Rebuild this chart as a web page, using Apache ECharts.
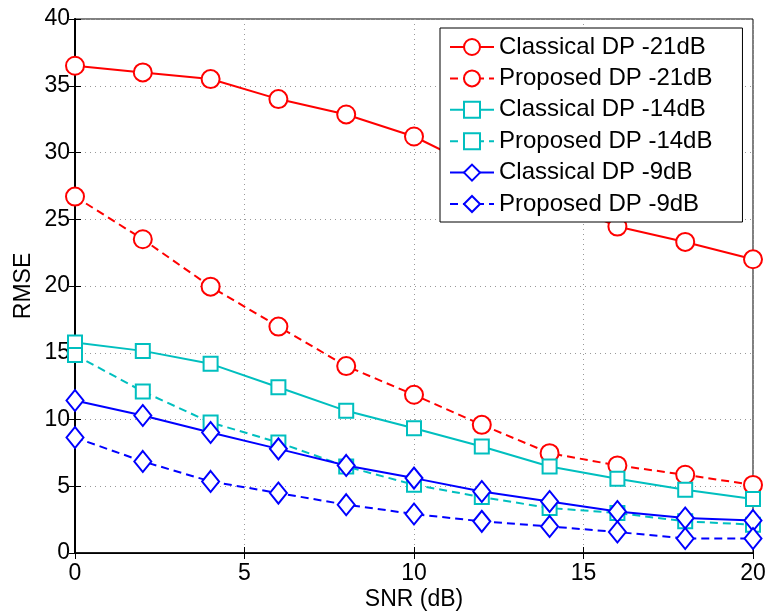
<!DOCTYPE html>
<html>
<head>
<meta charset="utf-8">
<script src="https://cdn.jsdelivr.net/npm/echarts@6/dist/echarts.min.js"></script>
<style>
html, body { margin: 0; padding: 0; background: #fff; }
#chart { width: 768px; height: 611px; }
</style>
</head>
<body>
<div id="chart"></div>
<script>
var snr = [0, 2, 4, 6, 8, 10, 12, 14, 16, 18, 20];
var classical21 = [36.5, 36.0, 35.5, 34.0, 32.85, 31.2, 28.7, 26.6, 24.45, 23.3, 22.0];
var proposed21 = [26.7, 23.5, 19.95, 16.96, 14.0, 11.85, 9.6, 7.48, 6.56, 5.86, 5.1];
var classical14 = [15.76, 15.14, 14.17, 12.42, 10.65, 9.35, 7.98, 6.48, 5.56, 4.74, 4.04];
var proposed14 = [14.84, 12.1, 9.78, 8.28, 6.48, 5.11, 4.19, 3.37, 3.0, 2.37, 2.12];
var classical9 = [11.42, 10.3, 9.03, 7.8, 6.56, 5.61, 4.61, 3.86, 3.11, 2.62, 2.44];
var proposed9 = [8.65, 6.86, 5.36, 4.49, 3.62, 2.92, 2.37, 1.99, 1.57, 1.09, 1.09];

var FONT = 'Liberation Sans, Arial, Helvetica, sans-serif';

function pairs(ys) {
	var out = [];
	for (var i = 0; i < snr.length; i++) {
		out.push([snr[i], ys[i]]);
	}
	return out;
}

function makeSeries(name, ys, color, symbol, size, dashed) {
	return {
		name: name,
		type: 'line',
		data: pairs(ys),
		symbol: symbol,
		symbolSize: size,
		showAllSymbol: true,
		lineStyle: { color: color, width: 2, type: dashed ? [8, 5] : 'solid' },
		itemStyle: { color: '#fff', borderColor: color, borderWidth: 2 },
		emphasis: { disabled: true },
		animation: false
	};
}

var chart = echarts.init(document.getElementById('chart'));

var tickStyle = { show: true, inside: true, length: 6, lineStyle: { color: '#000', width: 1 } };
var gridLine = { show: true, lineStyle: { color: '#999', type: [1, 4], width: 1 } };

var option = {
	backgroundColor: '#fff',
	grid: {
		left: 75, right: 15, top: 19, bottom: 58,
		outerBoundsMode: 'none', containLabel: false,
		show: true, borderColor: '#000', borderWidth: 1
	},
	xAxis: [{
		type: 'value', min: 0, max: 20, interval: 5,
		name: 'SNR (dB)', nameLocation: 'middle', nameGap: 35, nameMoveOverlap: false,
		nameTextStyle: { fontFamily: FONT, fontSize: 23, color: '#000' },
		axisLine: { show: true, lineStyle: { color: '#000', width: 1.5 } },
		axisTick: tickStyle,
		axisLabel: { fontFamily: FONT, fontSize: 23, color: '#000', margin: 9 },
		splitLine: gridLine
	}, {
		type: 'value', min: 0, max: 20, interval: 5, position: 'top',
		axisLine: { show: true, lineStyle: { color: '#000' } },
		axisTick: tickStyle, axisLabel: { show: false }, splitLine: { show: false }
	}],
	yAxis: [{
		type: 'value', min: 0, max: 40, interval: 5,
		name: 'RMSE', nameLocation: 'middle', nameGap: 40, nameMoveOverlap: false,
		nameTextStyle: { fontFamily: FONT, fontSize: 23, color: '#000' },
		axisLine: { show: true, lineStyle: { color: '#000', width: 1.5 } },
		axisTick: tickStyle,
		axisLabel: { fontFamily: FONT, fontSize: 23, color: '#000', margin: 5 },
		splitLine: gridLine
	}, {
		type: 'value', min: 0, max: 40, interval: 5, position: 'right',
		axisLine: { show: true, lineStyle: { color: '#000', width: 2 } },
		axisTick: tickStyle, axisLabel: { show: false }, splitLine: { show: false }
	}],
	legend: {
		orient: 'vertical',
		left: 440, top: 28,
		padding: [7, 30, 6, 9],
		itemWidth: 44, itemHeight: 20, itemGap: 7.4,
		backgroundColor: '#fff',
		borderColor: '#000', borderWidth: 1, borderRadius: 0,
		lineStyle: { width: 2 },
		textStyle: { fontFamily: FONT, fontSize: 24, color: '#000' },
		data: ['Classical DP -21dB', 'Proposed DP -21dB', 'Classical DP -14dB',
			'Proposed DP -14dB', 'Classical DP -9dB', 'Proposed DP -9dB']
	},
	series: [
		makeSeries('Classical DP -21dB', classical21, '#ff0000', 'circle', 18, false),
		makeSeries('Proposed DP -21dB', proposed21, '#ff0000', 'circle', 18, true),
		makeSeries('Classical DP -14dB', classical14, '#00bfbf', 'rect', 14, false),
		makeSeries('Proposed DP -14dB', proposed14, '#00bfbf', 'rect', 14, true),
		makeSeries('Classical DP -9dB', classical9, '#0000ff', 'diamond', [17, 21], false),
		makeSeries('Proposed DP -9dB', proposed9, '#0000ff', 'diamond', [17, 21], true)
	]
};

chart.setOption(option);
</script>
</body>
</html>
